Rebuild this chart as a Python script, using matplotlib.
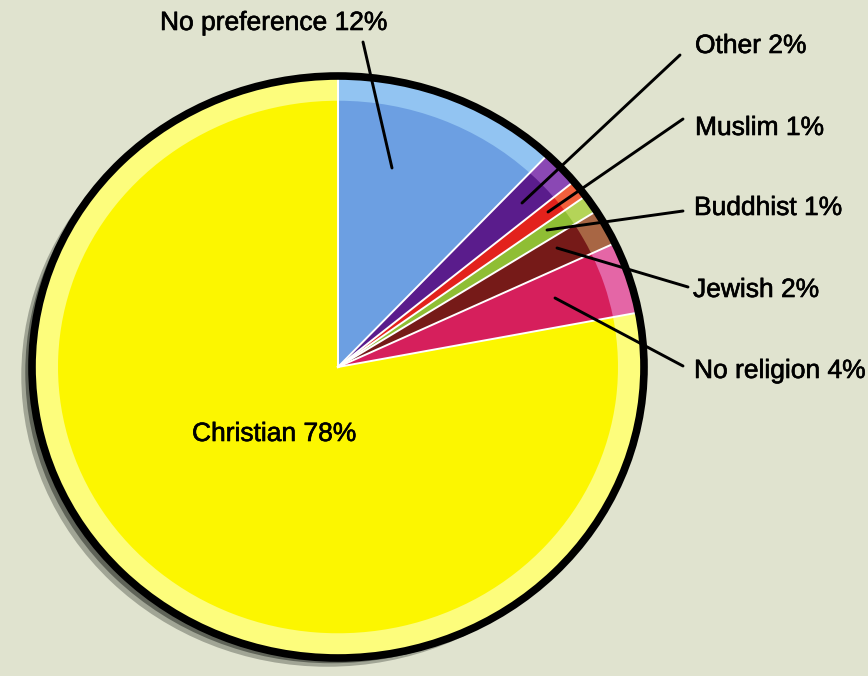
import numpy as np
import matplotlib.pyplot as plt
import matplotlib.patheffects as pe
from matplotlib.patches import Ellipse

plt.rcParams['font.family'] = ['Liberation Sans', 'DejaVu Sans']

# slices, clockwise from 12 o'clock
names = ["No preference", "Other", "Muslim", "Buddhist", "Jewish", "No religion", "Christian"]
values = [12, 2, 1, 1, 2, 4, 78]
colors = ["#6c9fe2", "#5a1c8c", "#e3221c", "#8fbe34", "#761a18", "#d61f5c", "#fcf600"]
rim_colors = ["#92c4f2", "#8a48b4", "#f2603c", "#b4d458", "#a86644", "#e466a6", "#fdfd7c"]

W, H = 868, 676
cx, cy = 338, 367        # pie centre in pixels (from top-left)
rx, ry = 306, 291        # pie radii in pixels

fig = plt.figure(figsize=(W / 100, H / 100), dpi=100)
fig.patch.set_facecolor("#e0e3cf")

# pie axes sized to the ellipse
pax = fig.add_axes([(cx - rx) / W, (H - cy - ry) / H, 2 * rx / W, 2 * ry / H])
pax.set_facecolor("none")

# soft shadow to the lower left
for dx, dy, a in [(-0.035, -0.03, 0.4), (-0.022, -0.018, 0.7)]:
    pax.add_patch(Ellipse((dx, dy), 2.0, 2.0, color="#43483f", alpha=a, lw=0,
                          zorder=0, clip_on=False))

# lighter outer rim, then main colours inside
outer, _ = pax.pie(values, colors=rim_colors, startangle=90, counterclock=False,
                   radius=1.0, wedgeprops=dict(linewidth=0), frame=True)
inner, _ = pax.pie(values, colors=colors, startangle=90, counterclock=False,
                   radius=0.915, wedgeprops=dict(linewidth=0), frame=True)
for w in outer + inner:
    w.set_clip_on(False)

# white separators between slices
bounds = 90 - 360 * np.cumsum([0] + values[:-1]) / sum(values)
for b in bounds:
    t = np.deg2rad(b)
    pax.plot([0, np.cos(t)], [0, np.sin(t)], color="white", lw=1.4, zorder=4, clip_on=False)

pax.add_patch(Ellipse((0, 0), 2.0, 2.0, fill=False, edgecolor="black", lw=5.5,
                      zorder=5, clip_on=False))
pax.set_aspect("auto")
pax.set_xlim(-1, 1)
pax.set_ylim(-1, 1)
pax.axis("off")

# overlay axes in image pixel coords for labels and leader lines
ax = fig.add_axes([0, 0, 1, 1])
ax.set_facecolor("none")
ax.set_xlim(0, W)
ax.set_ylim(H, 0)
ax.axis("off")

# (text x, baseline y, line start, line end)
label_pos = {
    "No preference": (160, 30, (392, 168), (363, 42)),
    "Other": (695, 53, (522, 203), (680, 55)),
    "Muslim": (695, 135, (548, 212), (683, 119)),
    "Buddhist": (694, 215, (547, 230), (683, 211)),
    "Jewish": (693, 297, (557, 248), (688, 287)),
    "No religion": (694, 378, (555, 298), (683, 366)),
    "Christian": (192, 441, None, None),
}

for name, val in zip(names, values):
    tx, ty, p0, p1 = label_pos[name]
    ax.text(tx, ty, f"{name} {val}%", fontsize=19, color="black", ha="left", va="baseline",
            path_effects=[pe.withStroke(linewidth=0.45, foreground="black")])
    if p0 is not None:
        ax.plot([p0[0], p1[0]], [p0[1], p1[1]], color="black", lw=2.1, solid_capstyle="round")

fig.savefig("out.png", dpi=100, facecolor=fig.get_facecolor())
